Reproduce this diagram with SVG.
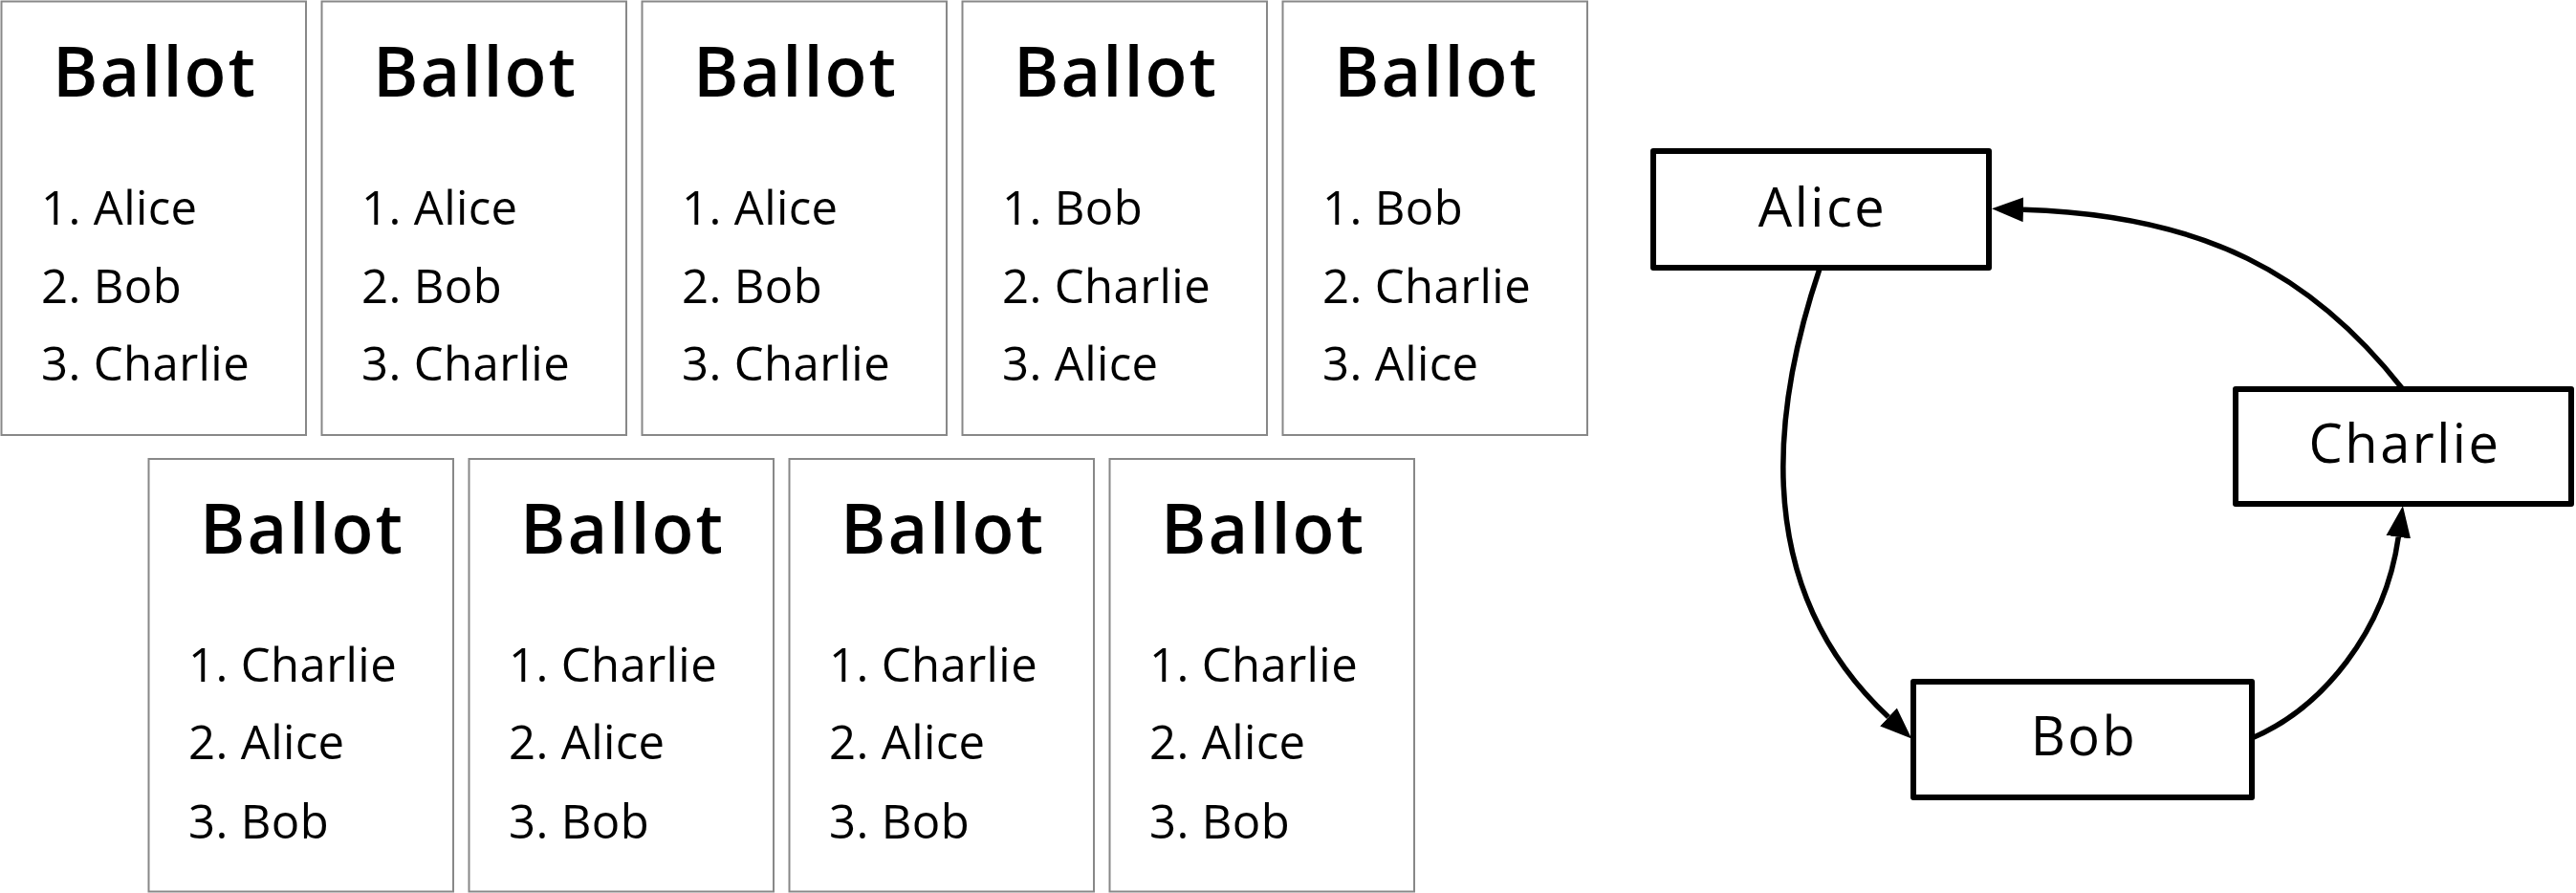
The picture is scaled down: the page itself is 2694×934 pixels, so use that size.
<svg xmlns="http://www.w3.org/2000/svg" width="2694" height="934" viewBox="0 0 2694 934">
<style>
.ballot rect{fill:#fff;stroke:#888;stroke-width:2}
.title{font-family:"Open Sans","Liberation Sans",sans-serif;font-size:72px;font-weight:600;letter-spacing:2px;text-anchor:middle;fill:#000}
.item{font-family:"Open Sans","Liberation Sans",sans-serif;font-size:49px;letter-spacing:0.4px;fill:#000}
.node rect{fill:#fff;stroke:#000;stroke-width:6;stroke-linejoin:round}
.node text{font-family:"Open Sans","Liberation Sans",sans-serif;font-size:56px;letter-spacing:2.5px;text-anchor:middle;fill:#000}
.edge{fill:none;stroke:#000;stroke-width:5.5;marker-end:url(#arr)}
</style>
<defs>
<marker id="arr" markerUnits="userSpaceOnUse" markerWidth="33" markerHeight="26" viewBox="0 0 32 25" refX="0" refY="12.5" orient="auto">
<path d="M0,0 L32,12.5 L0,25 z" fill="#000"/>
</marker>
</defs>
<rect width="2694" height="934" fill="#fff"/>
<g id="ballot1" class="ballot"><rect x="1.5" y="1.5" width="318.5" height="453.5"/><text class="title" x="162" y="100.5">Ballot</text><text class="item" x="43" y="235">1. Alice</text><text class="item" x="43" y="316.5">2. Bob</text><text class="item" x="43" y="398">3. Charlie</text></g>
<g id="ballot2" class="ballot"><rect x="336.5" y="1.5" width="318.5" height="453.5"/><text class="title" x="497" y="100.5">Ballot</text><text class="item" x="378" y="235">1. Alice</text><text class="item" x="378" y="316.5">2. Bob</text><text class="item" x="378" y="398">3. Charlie</text></g>
<g id="ballot3" class="ballot"><rect x="671.5" y="1.5" width="318.5" height="453.5"/><text class="title" x="832" y="100.5">Ballot</text><text class="item" x="713" y="235">1. Alice</text><text class="item" x="713" y="316.5">2. Bob</text><text class="item" x="713" y="398">3. Charlie</text></g>
<g id="ballot4" class="ballot"><rect x="1006.5" y="1.5" width="318.5" height="453.5"/><text class="title" x="1167" y="100.5">Ballot</text><text class="item" x="1048" y="235">1. Bob</text><text class="item" x="1048" y="316.5">2. Charlie</text><text class="item" x="1048" y="398">3. Alice</text></g>
<g id="ballot5" class="ballot"><rect x="1341.5" y="1.5" width="318.5" height="453.5"/><text class="title" x="1502" y="100.5">Ballot</text><text class="item" x="1383" y="235">1. Bob</text><text class="item" x="1383" y="316.5">2. Charlie</text><text class="item" x="1383" y="398">3. Alice</text></g>
<g id="ballot6" class="ballot"><rect x="155.5" y="480" width="318.5" height="452.5"/><text class="title" x="316" y="578.5">Ballot</text><text class="item" x="197" y="712.5">1. Charlie</text><text class="item" x="197" y="794">2. Alice</text><text class="item" x="197" y="876.5">3. Bob</text></g>
<g id="ballot7" class="ballot"><rect x="490.5" y="480" width="318.5" height="452.5"/><text class="title" x="651" y="578.5">Ballot</text><text class="item" x="532" y="712.5">1. Charlie</text><text class="item" x="532" y="794">2. Alice</text><text class="item" x="532" y="876.5">3. Bob</text></g>
<g id="ballot8" class="ballot"><rect x="825.5" y="480" width="318.5" height="452.5"/><text class="title" x="986" y="578.5">Ballot</text><text class="item" x="867" y="712.5">1. Charlie</text><text class="item" x="867" y="794">2. Alice</text><text class="item" x="867" y="876.5">3. Bob</text></g>
<g id="ballot9" class="ballot"><rect x="1160.5" y="480" width="318.5" height="452.5"/><text class="title" x="1321" y="578.5">Ballot</text><text class="item" x="1202" y="712.5">1. Charlie</text><text class="item" x="1202" y="794">2. Alice</text><text class="item" x="1202" y="876.5">3. Bob</text></g>
<g id="connectors">
<path class="edge" d="M1903,281 C1839,471 1850.9,634.4 1975,750"/>
<path class="edge" d="M2355,772 C2428.6,740.8 2494.3,660.7 2508.3,561.7"/>
<path class="edge" d="M2512,406 C2419,287.5 2306,225 2116,219.3"/>
</g>
<g id="node-alice" class="node"><rect x="1729" y="158" width="351" height="122"/><text x="1906" y="237">Alice</text></g>
<g id="node-charlie" class="node"><rect x="2338" y="407" width="351" height="120"/><text x="2515" y="484">Charlie</text></g>
<g id="node-bob" class="node"><rect x="2001" y="713" width="354" height="121"/><text x="2179.5" y="790">Bob</text></g>
</svg>
